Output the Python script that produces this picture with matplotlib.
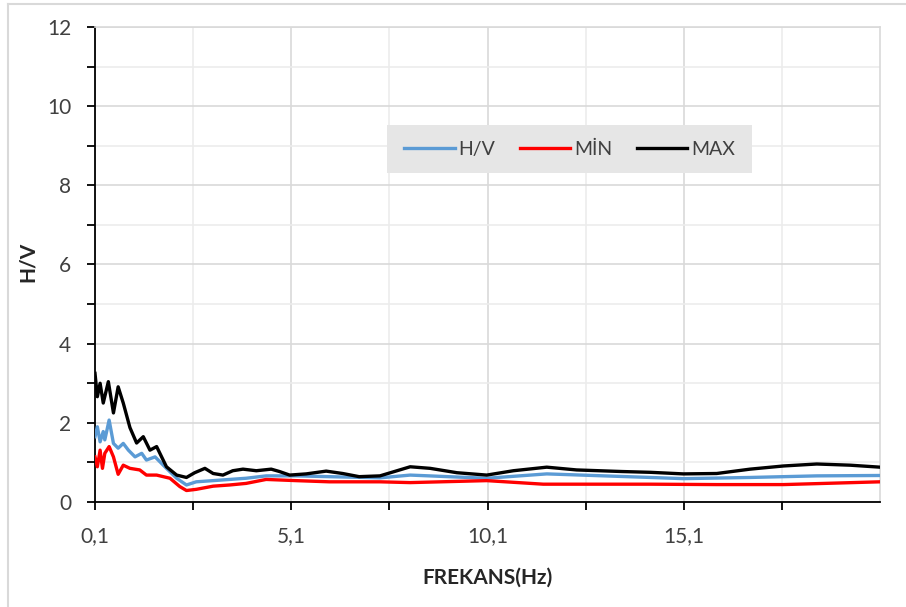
import matplotlib.pyplot as plt
from matplotlib.patches import Rectangle
from matplotlib.lines import Line2D
from matplotlib.ticker import FixedLocator, FuncFormatter

plt.rcParams['font.family'] = ['Lato', 'DejaVu Sans']

# values
freq_max = [0.10, 0.16, 0.23, 0.31, 0.44, 0.57, 0.69, 0.82, 0.99, 1.16, 1.33, 1.50,
            1.67, 1.92, 2.18, 2.43, 2.64, 2.90, 3.11, 3.36, 3.61, 3.87, 4.21, 4.59,
            4.80, 5.06, 5.48, 5.99, 6.41, 6.83, 7.36, 8.13, 8.64, 9.32, 10.08, 10.76,
            11.61, 12.37, 13.52, 14.25, 15.09, 15.94, 16.79, 17.64, 18.49, 19.34, 20.10]
hv_max = [3.25, 2.66, 3.00, 2.50, 3.04, 2.25, 2.91, 2.50, 1.88, 1.49, 1.65, 1.31,
          1.40, 0.89, 0.68, 0.62, 0.74, 0.85, 0.72, 0.68, 0.79, 0.83, 0.79, 0.83,
          0.77, 0.68, 0.71, 0.78, 0.72, 0.64, 0.66, 0.89, 0.85, 0.74, 0.68, 0.79,
          0.88, 0.81, 0.77, 0.75, 0.71, 0.72, 0.83, 0.91, 0.96, 0.93, 0.88]

freq_hv = [0.10, 0.16, 0.23, 0.31, 0.35, 0.46, 0.57, 0.69, 0.82, 0.95, 1.12, 1.29,
           1.41, 1.63, 1.88, 2.18, 2.43, 2.68, 3.11, 3.95, 4.46, 5.22, 6.07, 7.36,
           8.13, 10.08, 11.61, 14.25, 15.09, 16.79, 18.49, 20.10]
hv = [1.65, 1.90, 1.52, 1.78, 1.57, 2.07, 1.48, 1.36, 1.48, 1.31, 1.14, 1.23,
      1.06, 1.14, 0.89, 0.60, 0.43, 0.51, 0.54, 0.60, 0.66, 0.66, 0.64, 0.61,
      0.68, 0.60, 0.71, 0.62, 0.59, 0.62, 0.66, 0.67]

freq_min = [0.10, 0.16, 0.23, 0.29, 0.35, 0.46, 0.57, 0.69, 0.82, 0.99, 1.24, 1.41,
            1.67, 2.01, 2.26, 2.43, 2.68, 3.11, 3.53, 3.95, 4.46, 5.22, 6.07, 7.36,
            8.13, 10.08, 11.52, 14.25, 15.94, 17.64, 20.10]
hv_min = [1.14, 0.89, 1.31, 0.85, 1.23, 1.40, 1.14, 0.70, 0.93, 0.85, 0.81, 0.68,
          0.68, 0.60, 0.39, 0.29, 0.32, 0.40, 0.43, 0.47, 0.57, 0.54, 0.51, 0.51,
          0.49, 0.54, 0.45, 0.45, 0.44, 0.44, 0.51]

x_major = [0.1, 5.1, 10.1, 15.1]
x_minor = [2.6, 7.6, 12.6, 17.6]

fig = plt.figure(figsize=(9.06, 6.07), dpi=100)
ax = fig.add_axes([95 / 906, 1 - 502 / 607, 785 / 906, 475 / 607])

# light frame around the whole picture
fig.add_artist(Line2D([8 / 906, 1], [1 - 4 / 607, 1 - 4 / 607], color='#d9d9d9', lw=1.5))
fig.add_artist(Line2D([8 / 906, 8 / 906], [0, 1 - 4 / 607], color='#d9d9d9', lw=1.5))

ax.plot(freq_hv, hv, color='#5b9bd5', lw=2.4, label='H/V', zorder=3)
ax.plot(freq_min, hv_min, color='#ff0000', lw=2.4, label='MİN', zorder=3)
ax.plot(freq_max, hv_max, color='#000000', lw=2.4, label='MAX', zorder=4)

ax.set_xlim(0.1, 20.1)
ax.set_ylim(0, 12)
ax.xaxis.set_major_locator(FixedLocator(x_major))
ax.xaxis.set_minor_locator(FixedLocator(x_minor))
ax.xaxis.set_major_formatter(FuncFormatter(lambda v, p: f'{v:.1f}'.replace('.', ',')))
ax.yaxis.set_major_locator(FixedLocator(range(0, 13, 2)))
ax.yaxis.set_minor_locator(FixedLocator(range(1, 13, 2)))

ax.set_axisbelow(True)
ax.grid(which='major', color='#d9d9d9', lw=1.2)
ax.grid(which='minor', color='#ececec', lw=1.2)

for s in ['top', 'right']:
    ax.spines[s].set_color('#d9d9d9')
    ax.spines[s].set_linewidth(1.2)
for s in ['left', 'bottom']:
    ax.spines[s].set_color('#000000')
    ax.spines[s].set_linewidth(1.3)

ax.tick_params(axis='both', which='both', length=6, width=1.3, color='#000000')
ax.tick_params(axis='x', which='both', pad=11, labelsize=15, labelcolor='#404040')
ax.tick_params(axis='y', which='both', pad=11, labelsize=15, labelcolor='#404040')

ax.set_xlabel('FREKANS(Hz)', fontsize=15, fontweight='bold', color='#262626', va='center')
ax.xaxis.set_label_coords(0.5, (502 - 578) / 475)
ax.set_ylabel('H/V', fontsize=15, fontweight='bold', color='#262626', va='center')
ax.yaxis.set_label_coords((28 - 95) / 785, (502 - 262) / 475)

# legend box
ax.add_patch(Rectangle((0.3716, 0.6926), 0.465, 0.101, transform=ax.transAxes,
                       facecolor='#e6e6e6', edgecolor='none', zorder=5))
leg = ax.legend(loc='center', bbox_to_anchor=(0.6045, 0.743), ncol=3, frameon=False,
                fontsize=14, handlelength=2.6, handletextpad=0.2, columnspacing=1.25,
                borderpad=0, labelcolor='#404040')
leg.set_zorder(6)

fig.savefig('out.png', dpi=100)
